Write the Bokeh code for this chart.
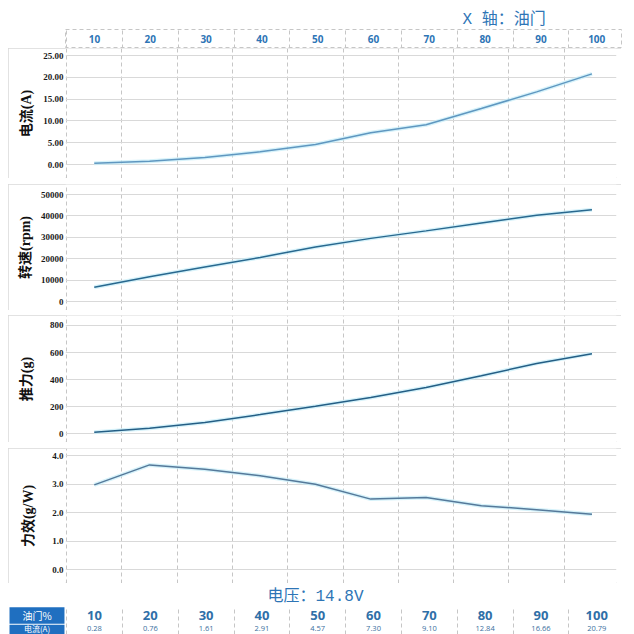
from bokeh.plotting import figure
from bokeh.models import Range1d, FixedTicker, NumeralTickFormatter, Spacer
from bokeh.layouts import column, row
from bokeh.embed import file_html
from bokeh.resources import INLINE
from bokeh.core.properties import value

# ---------------- data ----------------
throttle = [10, 20, 30, 40, 50, 60, 70, 80, 90, 100]
throttle_labels = ["10", "20", "30", "40", "50", "60", "70", "80", "90", "100"]
current = [0.28, 0.76, 1.61, 2.91, 4.57, 7.30, 9.10, 12.84, 16.66, 20.79]
rpm = [6700, 11600, 16100, 20600, 25500, 29500, 33000, 36700, 40300, 42900]
thrust = [12, 41, 84, 142, 203, 268, 342, 428, 520, 592]
efficiency = [2.98, 3.68, 3.53, 3.30, 3.00, 2.48, 2.54, 2.25, 2.11, 1.95]
current_labels = ["%.2f" % c for c in current]

current_ticks = [0, 5, 10, 15, 20, 25]
rpm_ticks = [0, 10000, 20000, 30000, 40000, 50000]
thrust_ticks = [0, 200, 400, 600, 800]
eff_ticks = [0, 1, 2, 3, 4]
column_bounds = [5, 15, 25, 35, 45, 55, 65, 75, 85, 95]

header_title = "X 轴：油门"
footer_title = "电压：14.8V"
row_label = "油门%"
row2_label = "电流(A)"
labels = ["电流(A)", "转速(rpm)", "推力(g)", "力效(g/W)"]

# ---------------- styles ----------------
BLUE = "#2e75b6"
CELL = "#1f6fc0"
GRID = "#d9d9d9"
DASH = "#c6c6c6"
MONO_CJK = "Liberation Mono, Noto Sans CJK SC"

shared_x = Range1d(4.8, 104.44)
footer_x = Range1d(-5.41, 104.44)


def base(width, height, xr, yr, yloc=None, **kw):
    p = figure(width=width, height=height, x_range=xr, y_range=yr,
               output_backend="svg", toolbar_location=None,
               x_axis_location=None, y_axis_location=yloc, **kw)
    p.background_fill_color = "white"
    p.border_fill_color = "white"
    p.outline_line_color = None
    p.xgrid.ticker = FixedTicker(ticks=column_bounds)
    p.xgrid.grid_line_color = DASH
    p.xgrid.grid_line_dash = "4 3"
    p.xgrid.grid_line_width = 1
    return p


# ---------------- header ----------------
header = base(618, 48, shared_x, Range1d(0, 1), title=header_title,
              min_border_left=57, min_border_right=5, min_border_top=29, min_border_bottom=0)
header.ygrid.visible = False
header.outline_line_color = DASH
header.outline_line_dash = "4 3"
header.title.align = "left"
header.title.offset = 397
header.title.standoff = 2
header.title.text_font = MONO_CJK
header.title.text_font_size = "16px"
header.title.text_font_style = "normal"
header.title.text_color = BLUE
header.text(x=throttle, y=0.5, text=throttle_labels, text_align="center",
            text_baseline="middle", text_font=value("Open Sans"),
            text_font_style="bold", text_font_size="10px", text_color=BLUE)


# ---------------- panels ----------------
def panel(height, y0, y1, ticks, fmt, label, vals, color, standoff):
    p = base(613, height, shared_x, Range1d(y0, y1), yloc="left",
             min_border_left=57, min_border_right=0, min_border_top=0, min_border_bottom=0)
    p.styles = {"outline": "1px solid #d9d9d9", "outline-offset": "-1px"}
    p.yaxis.ticker = FixedTicker(ticks=ticks)
    p.yaxis.formatter = NumeralTickFormatter(format=fmt)
    p.yaxis.axis_line_color = None
    p.yaxis.major_tick_line_color = None
    p.yaxis.minor_tick_line_color = None
    p.yaxis.major_tick_out = 0
    p.yaxis.major_tick_in = 0
    p.yaxis.major_label_standoff = 2
    p.yaxis.major_label_text_font = "Liberation Serif"
    p.yaxis.major_label_text_font_style = "bold"
    p.yaxis.major_label_text_font_size = "9px"
    p.yaxis.major_label_text_color = "#1a1a1a"
    p.yaxis.axis_label = label
    p.yaxis.axis_label_text_font = "Liberation Serif, Noto Sans CJK SC"
    p.yaxis.axis_label_text_font_style = "bold"
    p.yaxis.axis_label_text_font_size = "14px"
    p.yaxis.axis_label_text_color = "#111111"
    p.yaxis.axis_label_standoff = standoff
    p.ygrid.grid_line_color = GRID
    p.ygrid.grid_line_width = 1
    p.line(throttle, vals, line_color="#c4ecf8", line_width=4, line_alpha=0.7)
    p.line(throttle, vals, line_color=color, line_width=1.5)
    return p


p1 = panel(130, -3.211, 26.606, current_ticks, "0.00", labels[0], current, "#5f97c0", 6)
p2 = panel(126, -4205.6, 54672.9, rpm_ticks, "0", labels[1], rpm, "#28688f", 5)
p3 = panel(127, -64.26, 873.8, thrust_ticks, "0", labels[2], thrust, "#245e85", 13)
p4 = panel(135, -0.4807, 4.256, eff_ticks, "0.0", labels[3], efficiency, "#55799a", 13)

# ---------------- footer table ----------------
footer = base(618, 51, footer_x, Range1d(-0.0795, 1.511), title=footer_title,
              min_border_left=0, min_border_right=5, min_border_top=23, min_border_bottom=0)
footer.frame_align = False
footer.ygrid.visible = False
footer.title.align = "left"
footer.title.offset = 259
footer.title.standoff = 2
footer.title.text_font = MONO_CJK
footer.title.text_font_size = "16px"
footer.title.text_font_style = "normal"
footer.title.text_color = BLUE
footer.quad(left=-5.23, right=4.62, bottom=[0.53, -0.6], top=[1.47, 0.47],
            fill_color=CELL, line_color=None)
footer.text(x=-0.3, y=1, text=[row_label], text_align="center", text_baseline="middle",
            text_font=value("Noto Sans CJK SC"), text_font_size="10px", text_color="white")
footer.text(x=-0.3, y=0.24, text=[row2_label], text_align="center", text_baseline="middle",
            text_font=value("Noto Sans CJK SC"), text_font_size="8px", text_color="white")
footer.text(x=throttle, y=1, text=throttle_labels, text_align="center",
            text_baseline="middle", text_font=value("Open Sans"),
            text_font_style="bold", text_font_size="13px", text_color="#2f6fa8")
footer.text(x=throttle, y=0.24, text=current_labels, text_align="center",
            text_baseline="middle", text_font=value("Open Sans"),
            text_font_size="7.5px", text_color="#3a6f9e")

stack = column(header, p1, Spacer(width=613, height=6), p2, Spacer(width=613, height=5),
               p3, Spacer(width=613, height=6), p4, footer, spacing=0)
layout = row(Spacer(width=8, height=634), stack, spacing=0)

open("out.html", "w").write(file_html(layout, INLINE))
